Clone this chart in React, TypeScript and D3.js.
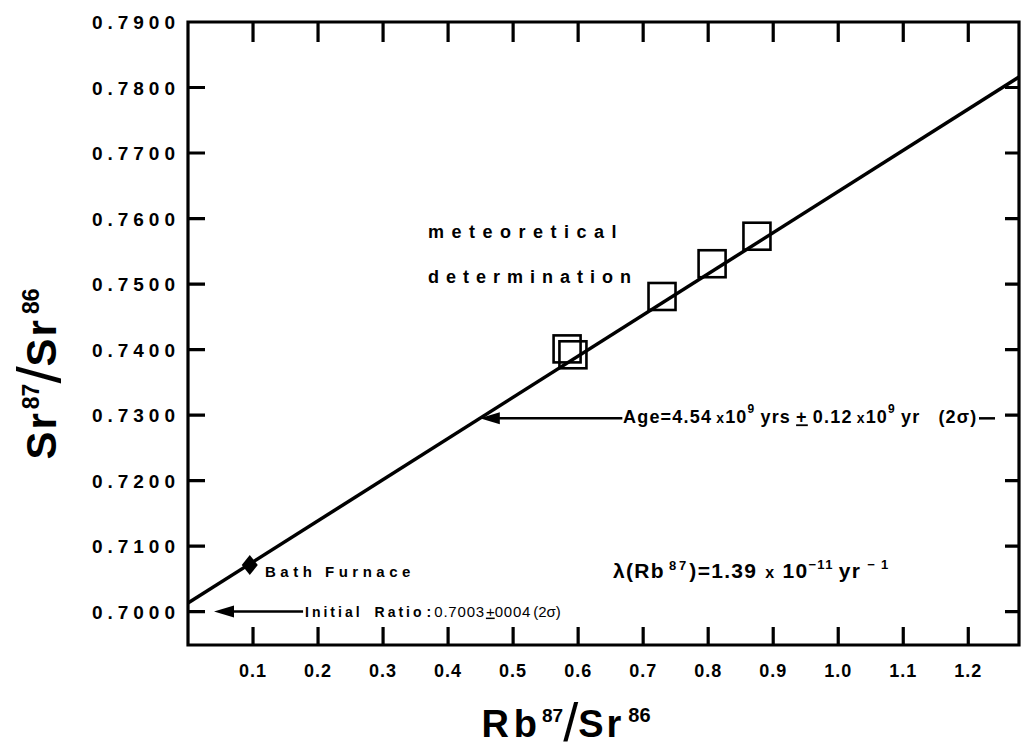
import React from "react";
import * as d3 from "d3";

const xTickValues = [0.1, 0.2, 0.3, 0.4, 0.5, 0.6, 0.7, 0.8, 0.9, 1.0, 1.1, 1.2];
const xTickLabels = ["0.1", "0.2", "0.3", "0.4", "0.5", "0.6", "0.7", "0.8", "0.9", "1.0", "1.1", "1.2"];
const yTickValues = [0.7, 0.71, 0.72, 0.73, 0.74, 0.75, 0.76, 0.77, 0.78, 0.79];
const yRightTickValues = [0.7, 0.71, 0.72, 0.73, 0.74, 0.75, 0.76, 0.77, 0.78];
const yTickLabels = ["0.7000", "0.7100", "0.7200", "0.7300", "0.7400", "0.7500", "0.7600", "0.7700", "0.7800", "0.7900"];

const meteoriteRb = [0.583, 0.592, 0.729, 0.806, 0.875];
const meteoriteSr = [0.7401, 0.7392, 0.7481, 0.7531, 0.7573];

const bathRb = [0.095];
const bathSr = [0.7071];

const isochronRb = [0, 1.278];
const isochronSr = [0.7013, 0.7816];

const xDomain = [0, 1.278];
const yDomain = [0.6949, 0.79];

const ageArrowSr = 0.7295;
const ageArrowTailRb = 0.668;
const initialArrowSr = 0.7;
const initialArrowRb = [0.04, 0.177];

const FONT = "'Liberation Sans', Arial, Helvetica, sans-serif";

const W = 1021;
const H = 751;

export default function App() {
  const x = d3.scaleLinear().domain(xDomain).range([188, 1019]);
  const y = d3.scaleLinear().domain(yDomain).range([645, 22]);
  const x0 = x(xDomain[0]);
  const x1 = x(xDomain[1]);
  const y0 = y(yDomain[0]);
  const y1 = y(yDomain[1]);

  const p = d3.path();
  p.moveTo(x0, y1);
  p.lineTo(x1, y1);
  p.lineTo(x1, y0);
  p.lineTo(x0, y0);
  p.closePath();
  xTickValues.forEach((v) => {
    p.moveTo(x(v), y0 + 1);
    p.lineTo(x(v), y0 - 18);
    p.moveTo(x(v), y1 - 1);
    p.lineTo(x(v), y1 + 20);
  });
  yTickValues.forEach((v) => {
    p.moveTo(x0 - 1, y(v));
    p.lineTo(x0 + 17, y(v));
  });
  yRightTickValues.forEach((v) => {
    p.moveTo(x1 + 1, y(v));
    p.lineTo(x1 - 14, y(v));
  });
  const framePath = p.toString();

  const slope = (isochronSr[1] - isochronSr[0]) / (isochronRb[1] - isochronRb[0]);
  const lineAt = (sr: number) => (sr - isochronSr[0]) / slope;

  const lineGen = d3
    .line<number>()
    .x((_, i) => x(isochronRb[i]))
    .y((d) => y(d));

  const sq = 27;

  const arrowHead = (tx: number, ty: number) =>
    `M${tx},${ty} L${tx + 20},${ty - 6} L${tx + 20},${ty + 6} Z`;

  const ageTipX = x(lineAt(ageArrowSr));
  const ageY = y(ageArrowSr);

  return (
    <svg
      width={W}
      height={H}
      style={{ position: "absolute", left: 0, top: 0, background: "#fff" }}
      fontFamily={FONT}
    >
      <rect x={0} y={0} width={W} height={H} fill="#fff" />
      {/* frame + ticks */}
      <path d={framePath} fill="none" stroke="#000" strokeWidth={3.2} strokeLinecap="butt" />

      {xTickValues.map((v, i) => (
        <text
          key={"xl" + i}
          x={x(v)}
          y={677}
          textAnchor="middle"
          fontSize={18}
          fontWeight="bold"
          letterSpacing={1}
        >
          {xTickLabels[i]}
        </text>
      ))}

      {yTickValues.map((v, i) => (
        <text
          key={"yl" + i}
          x={180}
          y={y(v) + 7}
          textAnchor="end"
          fontSize={19}
          fontWeight="bold"
          letterSpacing={5}
        >
          {yTickLabels[i]}
        </text>
      ))}

      {/* isochron */}
      <path d={lineGen(isochronSr) || ""} fill="none" stroke="#000" strokeWidth={3.5} />

      {/* meteorite points */}
      {meteoriteRb.map((r, i) => (
        <rect
          key={"m" + i}
          x={x(r) - sq / 2}
          y={y(meteoriteSr[i]) - sq / 2}
          width={sq}
          height={sq}
          fill="none"
          stroke="#000"
          strokeWidth={2.6}
        />
      ))}

      {/* Bath Furnace diamond */}
      {bathRb.map((r, i) => {
        const cx = x(r);
        const cy = y(bathSr[i]);
        return (
          <path
            key={"b" + i}
            d={`M${cx},${cy - 10} L${cx + 8},${cy} L${cx},${cy + 10} L${cx - 8},${cy} Z`}
            fill="#000"
          />
        );
      })}

      {/* Age arrow */}
      <line x1={ageTipX + 10} x2={x(ageArrowTailRb)} y1={ageY} y2={ageY} stroke="#000" strokeWidth={2.5} />
      <path d={arrowHead(ageTipX, ageY)} fill="#000" />
      <text x={623} y={ageY + 5} fontSize={18} fontWeight="bold" letterSpacing={1.2}>
        <tspan>Age=4.54</tspan>
        <tspan dx={4} fontSize={14}>x</tspan>
        <tspan>10</tspan>
        <tspan dy={-10} fontSize={12}>9</tspan>
        <tspan dy={10} dx={5}>yrs</tspan>
        <tspan dx={5} textDecoration="underline">+</tspan>
        <tspan dx={5}>0.12</tspan>
        <tspan dx={4} fontSize={14}>x</tspan>
        <tspan>10</tspan>
        <tspan dy={-10} fontSize={12}>9</tspan>
        <tspan dy={10} dx={5}>yr</tspan>
        <tspan dx={18}>(2σ)</tspan>
      </text>
      <line x1={979} x2={995} y1={ageY} y2={ageY} stroke="#000" strokeWidth={2.5} />

      {/* Initial ratio arrow */}
      <line
        x1={x(initialArrowRb[0]) + 10}
        x2={x(initialArrowRb[1])}
        y1={y(initialArrowSr)}
        y2={y(initialArrowSr)}
        stroke="#000"
        strokeWidth={2.5}
      />
      <path d={arrowHead(x(initialArrowRb[0]), y(initialArrowSr))} fill="#000" />
      <text x={305} y={y(initialArrowSr) + 5} fontSize={14} fontWeight="bold">
        <tspan letterSpacing={3}>Initial</tspan>
        <tspan dx={12} letterSpacing={3}>Ratio</tspan>
        <tspan dx={2}>:</tspan>
        <tspan dx={3} fontWeight="normal" fontSize={15} letterSpacing={0.8}>0.7003</tspan>
        <tspan dx={1} fontWeight="normal" fontSize={15} textDecoration="underline">+</tspan>
        <tspan fontWeight="normal" fontSize={15} letterSpacing={0.8}>0004</tspan>
        <tspan dx={2} fontWeight="normal" fontSize={15}>(2σ)</tspan>
      </text>

      {/* Annotations */}
      <text x={428} y={238} fontSize={18} fontWeight="bold" letterSpacing={7.5}>
        meteoretical
      </text>
      <text x={428} y={283} fontSize={18} fontWeight="bold" letterSpacing={7}>
        determination
      </text>
      <text x={265} y={577} fontSize={15} fontWeight="bold" letterSpacing={4.5}>
        Bath Furnace
      </text>
      <text x={613} y={578} fontSize={21} fontWeight="bold" letterSpacing={1.3}>
        <tspan>λ(Rb</tspan>
        <tspan dy={-8} fontSize={13} dx={4} letterSpacing={3}>87</tspan>
        <tspan dy={8}>)=1.39</tspan>
        <tspan dx={8} fontSize={16}>x</tspan>
        <tspan dx={7}>10</tspan>
        <tspan dy={-9} fontSize={13}>−11</tspan>
        <tspan dy={9} dx={5}>yr</tspan>
        <tspan dy={-9} fontSize={13} dx={6}>−  1</tspan>
      </text>

      {/* Axis titles */}
      <text x={566} y={737} textAnchor="middle" fontSize={38} fontWeight="bold">
        <tspan letterSpacing={5}>Rb</tspan>
        <tspan dy={-15} fontSize={19}>87</tspan>
        <tspan dy={19} fontSize={54} fontWeight="normal">/</tspan>
        <tspan dy={-4} letterSpacing={3}>Sr</tspan>
        <tspan dy={-15} fontSize={20} dx={4}>86</tspan>
      </text>
      <text
        transform={`translate(56,374) rotate(-90)`}
        textAnchor="middle"
        fontSize={42}
        fontWeight="bold"
      >
        <tspan letterSpacing={2}>Sr</tspan>
        <tspan dy={-17} fontSize={23} dx={2}>87</tspan>
        <tspan dy={21} fontSize={62} fontWeight="normal">/</tspan>
        <tspan dy={-4} letterSpacing={2}>Sr</tspan>
        <tspan dy={-17} fontSize={23} dx={4}>86</tspan>
      </text>
    </svg>
  );
}
